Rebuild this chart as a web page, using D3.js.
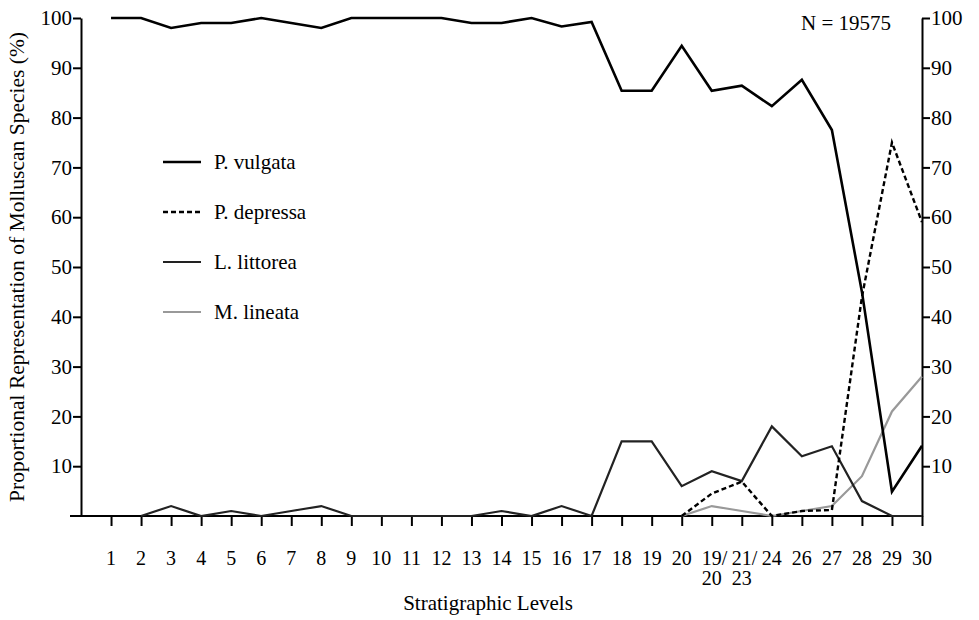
<!DOCTYPE html>
<html>
<head>
<meta charset="utf-8">
<script src="https://cdn.jsdelivr.net/npm/d3@7"></script>
<style>
  body { margin: 0; background: #fff; }
  svg text { font-family: "Liberation Serif", "Times New Roman", serif; fill: #000; }
</style>
</head>
<body>
<script>
// stratigraphic levels, oldest on the left
const levels = ["1","2","3","4","5","6","7","8","9","10","11","12","13","14","15","16","17","18","19","20","19/20","21/23","24","26","27","28","29","30"];

const vulgata  = [100,100,98,99,99,100,99,98,100,100,100,100,99,99,100,98.3,99.2,85.4,85.4,94.4,85.4,86.4,82.3,87.6,77.5,45,4.9,14.1];
const depressa = [null,null,null,null,null,null,null,null,null,null,null,null,null,null,null,null,null,null,null,0,4.5,6.9,0,1,1.2,44,75,59];
const littorea = [null,0,2,0,1,0,1,2,0,0,0,0,0,1,0,2,0,15,15,6,9,7,18,12,14,3,0,0];
const lineata  = [null,null,null,null,null,null,null,null,null,null,null,null,null,null,null,null,null,null,null,0,2,1,0,1,2,8,21,28];

const yTicks = [10,20,30,40,50,60,70,80,90,100];

const series = [
  {name: "P. vulgata",  values: vulgata,  color: "#000",    width: 2.6, dash: null},
  {name: "P. depressa", values: depressa, color: "#000",    width: 2.4, dash: "5,3"},
  {name: "L. littorea", values: littorea, color: "#222",    width: 2.2, dash: null},
  {name: "M. lineata",  values: lineata,  color: "#999",    width: 2.2, dash: null}
];

const W = 979, H = 620;
const FS = "21px";

const svg = d3.select("body").append("svg")
  .attr("width", W)
  .attr("height", H);

// one empty step between the left axis and level 1
const x = d3.scaleLinear().domain([-1, levels.length - 1]).range([81, 922]);
const y = d3.scaleLinear().domain([0, 100]).range([516, 18]);

// left axis
const left = svg.append("g")
  .attr("transform", `translate(${x(-1)},0)`)
  .call(d3.axisLeft(y).tickValues(yTicks).tickSize(8).tickSizeOuter(0).tickPadding(1));

// right axis
const right = svg.append("g")
  .attr("transform", `translate(${x(levels.length - 1)},0)`)
  .call(d3.axisRight(y).tickValues(yTicks).tickSize(8).tickSizeOuter(0).tickPadding(1));

// bottom axis
const bottom = svg.append("g")
  .attr("transform", `translate(0,${y(0)})`)
  .call(d3.axisBottom(x).tickValues(d3.range(levels.length)).tickSize(10).tickSizeOuter(0).tickFormat(""));

bottom.select(".domain").remove();
bottom.append("line")
  .attr("x1", x(-1) - 11).attr("x2", x(levels.length - 1))
  .attr("stroke", "#000").attr("stroke-width", 2);

[left, right, bottom].forEach(g => {
  g.selectAll(".domain").attr("stroke-width", 2);
  g.selectAll(".tick line").attr("stroke-width", 2);
  g.selectAll(".tick text").style("font-size", FS).style("font-family", "Liberation Serif");
});

// x labels; for split ones the first number sits on the tick and the slash hangs right
const xg = svg.append("g").style("font-size", "20px");
levels.forEach((d, i) => {
  if (d.indexOf("/") < 0) {
    xg.append("text").attr("x", x(i)).attr("y", 565).attr("text-anchor", "middle").text(d);
  } else {
    const [a, b] = d.split("/");
    xg.append("text").attr("x", x(i) - 10).attr("y", 565).attr("text-anchor", "start").text(a + "/");
    xg.append("text").attr("x", x(i)).attr("y", 585).attr("text-anchor", "middle").text(b);
  }
});

// lines
const line = d3.line()
  .defined(d => d != null)
  .x((d, i) => x(i))
  .y(d => y(d));

svg.append("g").selectAll("path")
  .data(series.slice().reverse())
  .join("path")
  .attr("fill", "none")
  .attr("stroke", d => d.color)
  .attr("stroke-width", d => d.width)
  .attr("stroke-dasharray", d => d.dash)
  .attr("stroke-linejoin", "miter")
  .attr("d", d => line(d.values));

// legend
const legend = svg.append("g").selectAll("g")
  .data(series)
  .join("g")
  .attr("transform", (d, i) => `translate(163,${162 + i * 50})`);

legend.append("line")
  .attr("x1", 0).attr("x2", 38)
  .attr("stroke", d => d.color)
  .attr("stroke-width", d => d.width)
  .attr("stroke-dasharray", d => d.dash);

legend.append("text")
  .attr("x", 51)
  .attr("dy", "0.33em")
  .style("font-size", FS)
  .text(d => d.name);

svg.append("text")
  .attr("x", 891).attr("y", 30)
  .attr("text-anchor", "end")
  .style("font-size", FS)
  .text("N = 19575");

svg.append("text")
  .attr("x", 488).attr("y", 610)
  .attr("text-anchor", "middle")
  .style("font-size", FS)
  .text("Stratigraphic Levels");

svg.append("text")
  .attr("transform", "translate(24,267) rotate(-90)")
  .attr("text-anchor", "middle")
  .style("font-size", "21.5px")
  .text("Proportional Representation of Molluscan Species (%)");
</script>
</body>
</html>
